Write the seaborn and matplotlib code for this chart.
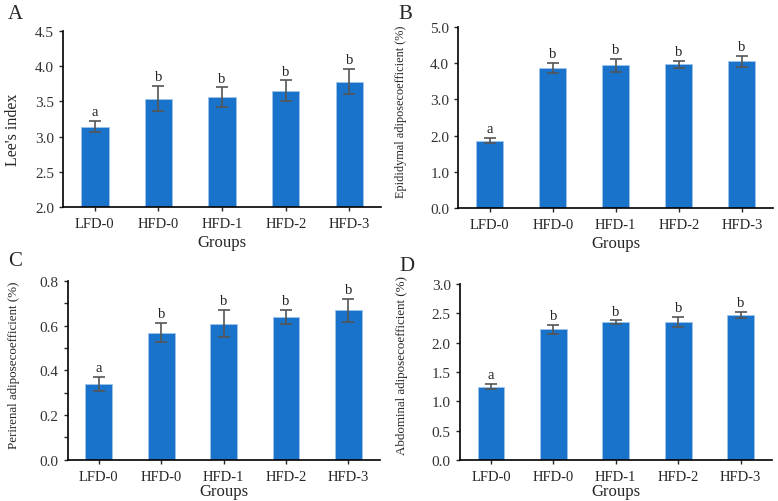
import numpy as np
import pandas as pd
import matplotlib.pyplot as plt
import seaborn as sns

# data
groups = ["LFD-0", "HFD-0", "HFD-1", "HFD-2", "HFD-3"]

lee_mean = [3.14, 3.54, 3.56, 3.65, 3.78]
lee_err = [0.08, 0.18, 0.14, 0.15, 0.18]
lee_sig = ["a", "b", "b", "b", "b"]

epi_mean = [1.86, 3.87, 3.95, 3.97, 4.06]
epi_err = [0.07, 0.14, 0.18, 0.09, 0.15]
epi_sig = ["a", "b", "b", "b", "b"]

peri_mean = [0.34, 0.57, 0.61, 0.64, 0.67]
peri_err = [0.032, 0.042, 0.062, 0.031, 0.052]
peri_sig = ["a", "b", "b", "b", "b"]

abd_mean = [1.25, 2.23, 2.35, 2.35, 2.48]
abd_err = [0.045, 0.08, 0.035, 0.09, 0.05]
abd_sig = ["a", "b", "b", "b", "b"]

sns.set_style("ticks")
plt.rcParams["font.family"] = ["Liberation Serif", "DejaVu Serif"]

bar_color = "#1a73cb"
err_color = "#555555"


def draw_panel(ax, means, errs, sigs, ylabel, ylim, yticks, ylabels,
               label_size, label_xy, xlabel_pad):
    df = pd.DataFrame({"group": groups, "value": means})
    sns.barplot(data=df, x="group", y="value", color=bar_color, width=0.43,
                errorbar=None, saturation=1, edgecolor="#9cc3ea", linewidth=0.6, ax=ax)
    ax.errorbar(np.arange(len(groups)), means, yerr=errs, fmt="none",
                ecolor=err_color, elinewidth=1.2, capsize=4, capthick=1.2)
    pad = (ylim[1] - ylim[0]) * 0.015
    for i, (m, e, s) in enumerate(zip(means, errs, sigs)):
        ax.text(i, m + e + pad, s, ha="center", va="bottom", fontsize=10.5, color="#222222")
    ax.set_ylim(*ylim)
    ax.set_xlim(-0.5, 4.5)
    ax.set_yticks(yticks)
    ax.set_yticklabels(ylabels)
    ax.set_ylabel(ylabel, fontsize=label_size)
    ax.yaxis.set_label_coords(*label_xy)
    ax.set_xlabel("Groups", fontsize=12, labelpad=xlabel_pad)
    ax.tick_params(axis="x", labelsize=10.5, length=3, width=1, pad=4)
    ax.tick_params(axis="y", labelsize=11, length=3, width=1, labelcolor="#333333")
    sns.despine(ax=ax)
    for sp in ["left", "bottom"]:
        ax.spines[sp].set_linewidth(1.2)
        ax.spines[sp].set_color("black")
    return ax


fig = plt.figure(figsize=(7.78, 5.02), dpi=100)
axA = fig.add_axes([0.081, 0.586, 0.409, 0.350])
axB = fig.add_axes([0.589, 0.584, 0.405, 0.360])
axC = fig.add_axes([0.087, 0.082, 0.401, 0.356])
axD = fig.add_axes([0.591, 0.082, 0.401, 0.350])

draw_panel(axA, lee_mean, lee_err, lee_sig, "Lee's index", (2.0, 4.5),
           np.arange(2.0, 4.51, 0.5), [f"{v:.1f}" for v in np.arange(2.0, 4.51, 0.5)],
           11.5, (-0.132, 0.443), 3)
draw_panel(axB, epi_mean, epi_err, epi_sig, "Epididymal adiposecoefficient (%)", (0, 5.0),
           np.arange(0, 5.01, 1.0), [f"{v:.1f}" for v in np.arange(0, 5.01, 1.0)],
           8.8, (-0.162, 0.536), 3)
c_ticks = np.round(np.arange(0, 0.81, 0.1), 1)
draw_panel(axC, peri_mean, peri_err, peri_sig, "Perirenal adiposecoefficient (%)", (0, 0.8),
           c_ticks, [f"{v:.1f}" if i % 2 == 0 else "" for i, v in enumerate(c_ticks)],
           9.4, (-0.154, 0.536), 0.5)
draw_panel(axD, abd_mean, abd_err, abd_sig, "Abdominal adiposecoefficient (%)", (0, 3.0),
           np.arange(0, 3.01, 0.5), [f"{v:.1f}" for v in np.arange(0, 3.01, 0.5)],
           9.4, (-0.167, 0.545), 0.5)

fig.text(0.010, 0.972, "A", fontsize=15, va="center")
fig.text(0.512, 0.971, "B", fontsize=15, va="center")
fig.text(0.010, 0.479, "C", fontsize=15, va="center")
fig.text(0.513, 0.470, "D", fontsize=15, va="center")

fig.savefig("out.png", dpi=100, facecolor="white")
